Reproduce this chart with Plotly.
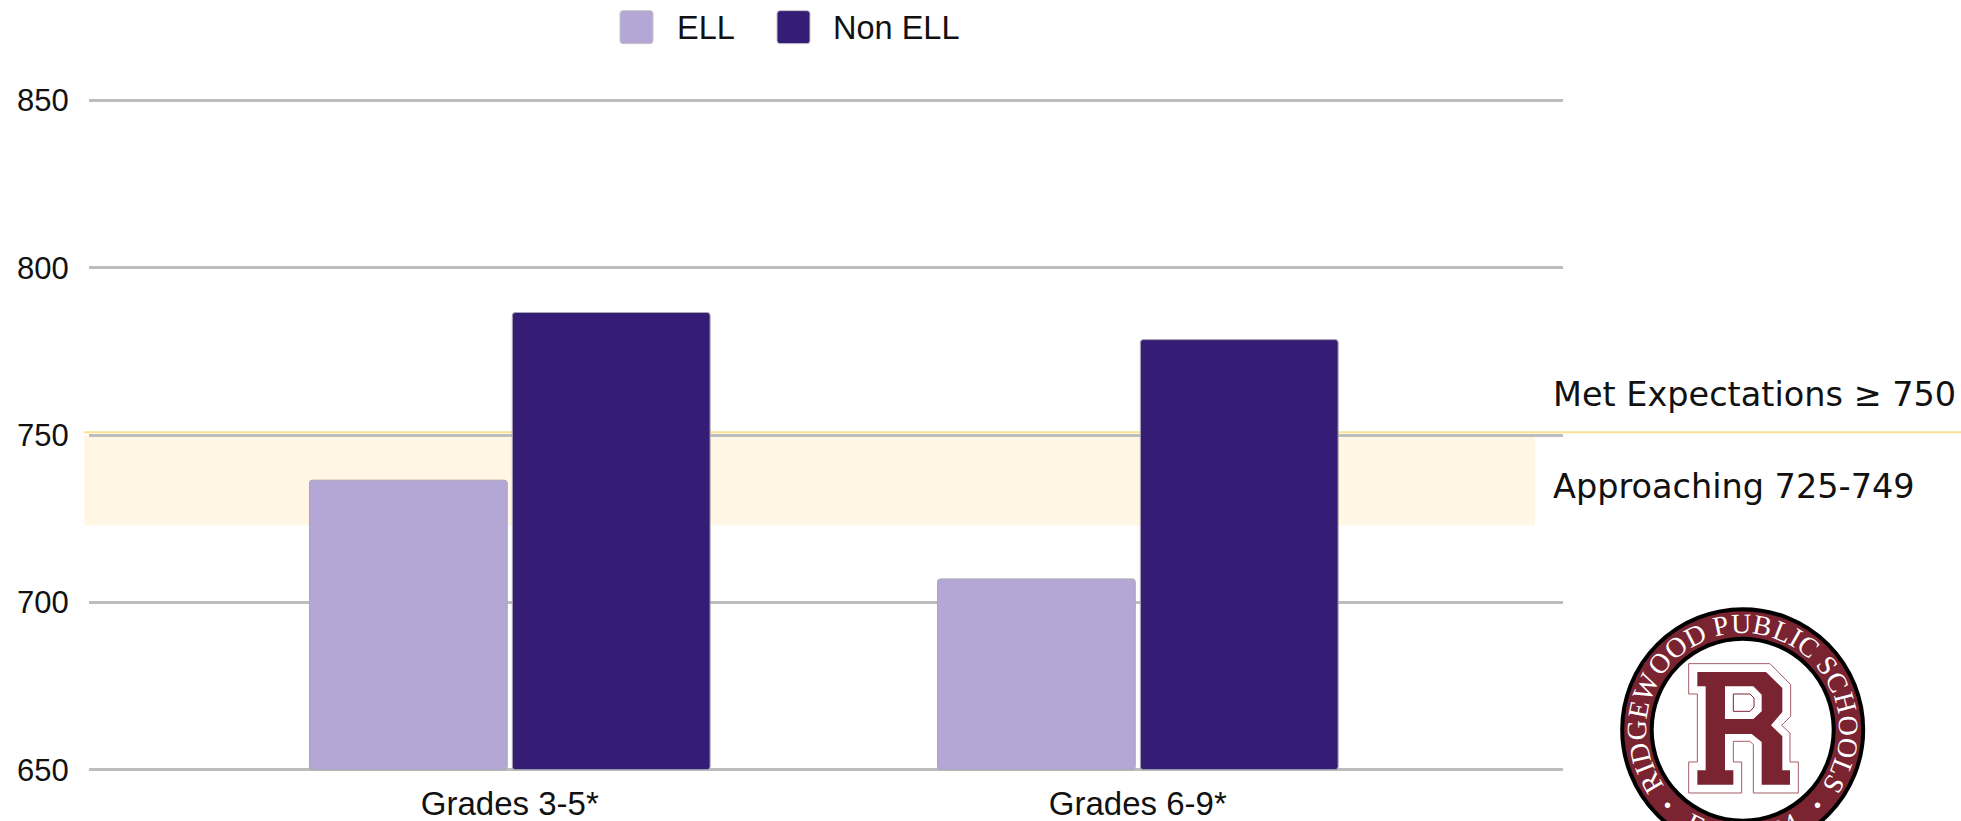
import math
import plotly.graph_objects as go

# ---- data ----
categories = ["Grades 3-5*", "Grades 6-9*"]
ell_values = [736.5, 707]
non_ell_values = [786.6, 778.5]
y_ticks = [650, 700, 750, 800, 850]
y_floor = 650
y_ceil = 850
met_threshold = 750
approaching_low = 723

W, H = 1961, 821
AX_PAD = 0.4            # small axis overshoot so the 650 and 850 gridlines are drawn
L, R_, T, B = 89, 1563, 99.36, 771.34
ELL_COL, NON_COL = "#b4a7d6", "#351c75"
GRID = "#bdbdbd"
MAROON = "#7a2331"
SANS = "Liberation Sans, Arial, sans-serif"
GEO = "DejaVu Sans, Inter, sans-serif"


def px(x):
    return (x - L) / (R_ - L)


def py(y):
    return (B - y) / (B - T)


fig = go.Figure()
fig.add_bar(name="ELL", x=categories, y=[v - y_floor for v in ell_values], base=y_floor,
            marker=dict(color=ELL_COL, line=dict(color="#a8a8b0", width=1)))
fig.add_bar(name="Non ELL", x=categories, y=[v - y_floor for v in non_ell_values], base=y_floor,
            marker=dict(color=NON_COL, line=dict(color="#a8a8b0", width=1)))

shapes = []
annots = []


def shape(**k):
    k.setdefault("xref", "paper")
    k.setdefault("yref", "paper")
    shapes.append(k)


def text(x, y, s, size, color="#111111", family=SANS, xanchor="left", angle=0):
    annots.append(dict(x=px(x), y=py(y), xref="paper", yref="paper", text=s, showarrow=False,
                       xanchor=xanchor, yanchor="middle", textangle=angle, borderpad=0, borderwidth=0,
                       font=dict(size=size, color=color, family=family)))


# Approaching band and met-expectations line (value on y axis, extents in page space)
shape(type="rect", yref="y", x0=px(84.5), x1=px(1535), y0=approaching_low, y1=met_threshold,
      fillcolor="#fff6e4", line=dict(width=0), layer="below")
shape(type="line", yref="y", x0=px(84), x1=px(1961), y0=met_threshold + 0.8, y1=met_threshold + 0.8,
      line=dict(color="#fbe08f", width=2), layer="below")

text(1553, 395, "Met Expectations ≥ 750", 33.5, family=GEO)
text(1553, 487, "Approaching 725-749", 33.5, family=GEO)


# Legend
def swatch(x0, x1, y0, y1, col, r=3):
    X0, X1, Y0, Y1 = px(x0), px(x1), py(y0), py(y1)
    rx, ry = r / (R_ - L), r / (B - T)
    shape(type="path", fillcolor=col, line=dict(color="#c4c4c8", width=1),
          path=f"M{X0+rx},{Y0} L{X1-rx},{Y0} Q{X1},{Y0} {X1},{Y0-ry} L{X1},{Y1+ry} Q{X1},{Y1} {X1-rx},{Y1} "
               f"L{X0+rx},{Y1} Q{X0},{Y1} {X0},{Y1+ry} L{X0},{Y0-ry} Q{X0},{Y0} {X0+rx},{Y0} Z")


swatch(620, 653, 11, 44, ELL_COL)
swatch(777, 810, 11, 44, NON_COL)
text(677, 28, "ELL", 32.5)
text(833, 28, "Non ELL", 32.5)

# Logo
CX, CY = 1742.7, 730


def circle(r, fill, line=None, lw=0):
    shape(type="circle", x0=px(CX - r), x1=px(CX + r), y0=py(CY + r), y1=py(CY - r), fillcolor=fill,
          line=dict(color=line or fill, width=lw))


circle(120.5, MAROON, "#000000", 4)
circle(91, "#ffffff", "#000000", 4)


def poly(pts, fill, line=None, lw=0):
    p = " L".join(f"{px(1670 + x / 3):.5f},{py(655 + y / 3):.5f}" for x, y in pts)
    shape(type="path", path="M" + p + " Z", fillcolor=fill, line=dict(color=line or fill, width=lw))


poly([(56, 27), (300, 27), (362, 90), (362, 185), (335, 212), (360, 235), (360, 322), (385, 322), (385, 415),
      (250, 415), (250, 270), (240, 260), (190, 260), (190, 322), (215, 322), (215, 415), (56, 415), (56, 322),
      (82, 322), (82, 118), (56, 118)], "#ffffff", "#a85c68", 1)
poly([(82, 52), (288, 52), (337, 100), (337, 172), (303, 212), (337, 245), (337, 347), (360, 347), (360, 390),
      (275, 390), (275, 262), (245, 238), (165, 238), (165, 347), (190, 347), (190, 390), (82, 390), (82, 347),
      (107, 347), (107, 95), (82, 95)], MAROON)
poly([(165, 95), (250, 95), (275, 120), (275, 170), (250, 193), (165, 193)], "#ffffff")
poly([(190, 118), (240, 118), (252, 130), (252, 157), (240, 170), (190, 170)], "#ffffff", MAROON, 1)

CHAR_W = {"R": .667, "I": .333, "D": .722, "G": .722, "E": .611, "W": .944, "O": .722, "P": .556, "U": .722,
          "B": .667, "L": .611, "C": .667, "S": .556, "H": .722, " ": .25, "T": .611, ".": .25, "1": .5, "8": .5,
          "9": .5, "4": .5}


def ring_text(s, a0, a1, r, size, bottom=False):
    widths = [CHAR_W[c] for c in s]
    total = sum(widths)
    pos = 0
    for c, w in zip(s, widths):
        a = a0 + (a1 - a0) * (pos + w / 2) / total
        pos += w
        if c == " ":
            continue
        rad = math.radians(a)
        if bottom:
            x, y, ang = CX + r * math.sin(rad), CY + r * math.cos(rad), -a
        else:
            x, y, ang = CX + r * math.sin(rad), CY - r * math.cos(rad), a
        text(x, y, c, size, "#ffffff", "Liberation Serif, serif", "center", ang)


ring_text("RIDGEWOOD PUBLIC SCHOOLS", -126, 126, 106, 28)
ring_text("EST. 1894", -31, 31, 106, 28, bottom=True)
for sign in (-1, 1):
    a = math.radians(sign * 135)
    text(CX + 106 * math.sin(a), CY - 106 * math.cos(a), "•", 20, "#ffffff", SANS, "center")

fig.update_layout(
    width=W, height=H, autosize=False,
    margin=dict(l=L, r=W - R_, t=T, b=H - B, pad=0),
    paper_bgcolor="#ffffff", plot_bgcolor="#ffffff",
    barmode="group", bargap=0.354, bargroupgap=0.025, barcornerradius=3,
    showlegend=False, shapes=shapes, annotations=annots,
    font=dict(family=SANS, color="#111111", size=30),
    xaxis=dict(type="category", range=[-0.67, 1.677], showgrid=False, zeroline=False, showline=False,
               automargin=False, ticks="outside", ticklen=3, tickcolor="rgba(0,0,0,0)",
               tickfont=dict(size=33, family=SANS)),
    yaxis=dict(range=[y_floor - AX_PAD, y_ceil + AX_PAD], tickvals=y_ticks, showgrid=True, gridcolor=GRID,
               gridwidth=3, zeroline=False, showline=False, automargin=False, ticks="outside", ticklen=13,
               tickcolor="rgba(0,0,0,0)", tickfont=dict(size=31, family=SANS)),
)

fig.write_html("out.html", post_script="document.body.style.margin='0';", config={"displayModeBar": False})
